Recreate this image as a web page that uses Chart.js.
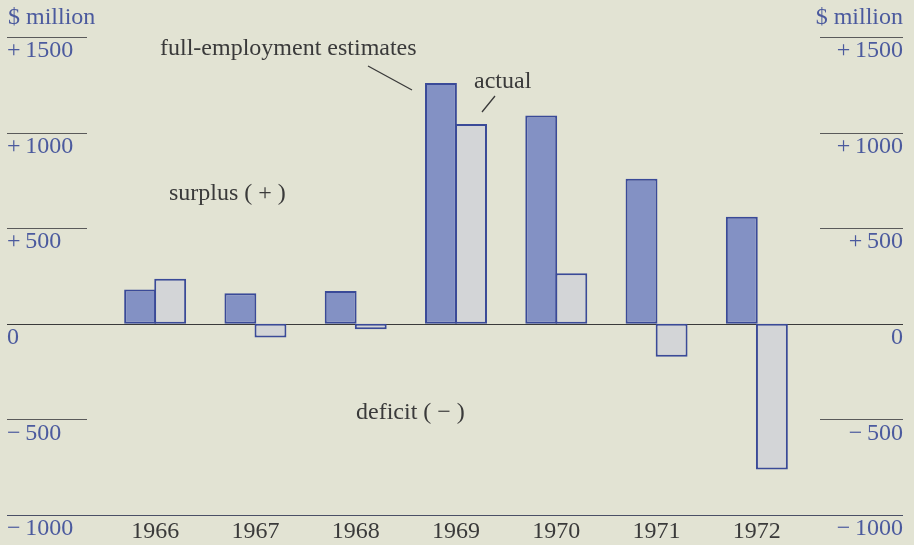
<!DOCTYPE html>
<html>
<head>
<meta charset="utf-8">
<script src="https://cdn.jsdelivr.net/npm/chart.js@4/dist/chart.umd.min.js"></script>
<style>
  html, body { margin: 0; padding: 0; background: #e2e3d3; }
  #wrap { width: 914px; height: 545px; }
</style>
</head>
<body>
<div id="wrap"><canvas id="budgetChart"></canvas></div>
<script>
// Budget balance, $ million
const years = ['1966', '1967', '1968', '1969', '1970', '1971', '1972'];
const fullEmployment = [180, 160, 172, 1260, 1090, 758, 560];
const actual = [235, -72, -28, 1045, 265, -172, -762];

// y axis ticks
const tickValues = [-1000, -500, 0, 500, 1000, 1500];
const tickLabels = ['\u2212\u20091000', '\u2212\u2009500', '0', '+\u2009500', '+\u20091000', '+\u20091500'];

const SERIF = '"Liberation Serif", "DejaVu Serif", serif';
const BLUE_TEXT = '#4b5a9e';
const DARK_TEXT = '#3a3a3a';

// short rule lines at each tick, plus full-width lines at 0 and -1000
const rulesPlugin = {
  id: 'rules',
  beforeDatasetsDraw(chart) {
    const ctx = chart.ctx;
    const y = chart.scales.y;
    const W = chart.width;
    ctx.save();
    ctx.lineWidth = 1;
    tickValues.forEach(v => {
      const py = Math.round(y.getPixelForValue(v)) + 0.5;
      ctx.strokeStyle = '#5a5a5a';
      ctx.beginPath();
      if (v === 0 || v === -1000) {
        ctx.strokeStyle = v === 0 ? '#3a3a3a' : '#4a4f66';
        ctx.moveTo(7, py);
        ctx.lineTo(W - 11, py);
      } else {
        ctx.moveTo(7, py);
        ctx.lineTo(87, py);
        ctx.moveTo(820, py);
        ctx.lineTo(W - 11, py);
      }
      ctx.stroke();
    });
    ctx.restore();
  },
  afterDraw(chart) {
    const ctx = chart.ctx;
    const W = chart.width;
    ctx.save();
    ctx.font = '24px ' + SERIF;
    ctx.textBaseline = 'middle';

    // unit labels
    ctx.fillStyle = BLUE_TEXT;
    ctx.textAlign = 'left';
    ctx.fillText('$ million', 8, 18);
    ctx.textAlign = 'right';
    ctx.fillText('$ million', W - 11, 18);

    // annotations
    ctx.fillStyle = DARK_TEXT;
    ctx.textAlign = 'left';
    ctx.fillText('full-employment estimates', 160, 49);
    ctx.fillText('actual', 474, 82);
    ctx.fillText('surplus ( + )', 169, 194);
    ctx.fillText('deficit ( \u2212 )', 356, 413);

    ctx.strokeStyle = '#3a3a3a';
    ctx.lineWidth = 1.3;
    ctx.beginPath();
    ctx.moveTo(368, 66);
    ctx.lineTo(412, 90);
    ctx.moveTo(495, 96);
    ctx.lineTo(482, 112);
    ctx.stroke();
    ctx.restore();
  }
};

const yTicks = {
  color: BLUE_TEXT,
  font: { family: SERIF, size: 24 },
  crossAlign: 'far',
  labelOffset: 14,
  callback: v => tickLabels[tickValues.indexOf(v)]
};

new Chart(document.getElementById('budgetChart'), {
  type: 'bar',
  data: {
    labels: years,
    datasets: [
      {
        label: 'full-employment estimates',
        data: fullEmployment,
        backgroundColor: '#8391c4',
        borderColor: '#3a4a98',
        borderWidth: 2,
        borderSkipped: false
      },
      {
        label: 'actual',
        data: actual,
        backgroundColor: '#d3d5d7',
        borderColor: '#3a4a98',
        borderWidth: 2,
        borderSkipped: false
      }
    ]
  },
  options: {
    responsive: true,
    maintainAspectRatio: false,
    animation: false,
    layout: { padding: { top: 37, left: 7, right: 11, bottom: 0 } },
    datasets: { bar: { barPercentage: 1.06, categoryPercentage: 0.6 } },
    plugins: { legend: { display: false }, tooltip: { enabled: false } },
    scales: {
      x: {
        grid: { display: false },
        border: { display: false },
        ticks: { color: DARK_TEXT, font: { family: SERIF, size: 24 }, padding: -6 },
        afterFit(scale) { scale.height = 30; }
      },
      y: {
        position: 'left',
        min: -1000,
        max: 1500,
        grid: { display: false },
        border: { display: false },
        ticks: yTicks,
        afterBuildTicks(scale) { scale.ticks = tickValues.map(v => ({ value: v })); },
        afterFit(scale) { scale.width = 98; }
      },
      y2: {
        position: 'right',
        min: -1000,
        max: 1500,
        grid: { display: false },
        border: { display: false },
        ticks: yTicks,
        afterBuildTicks(scale) { scale.ticks = tickValues.map(v => ({ value: v })); },
        afterFit(scale) { scale.width = 96; }
      }
    }
  },
  plugins: [rulesPlugin]
});
</script>
</body>
</html>
